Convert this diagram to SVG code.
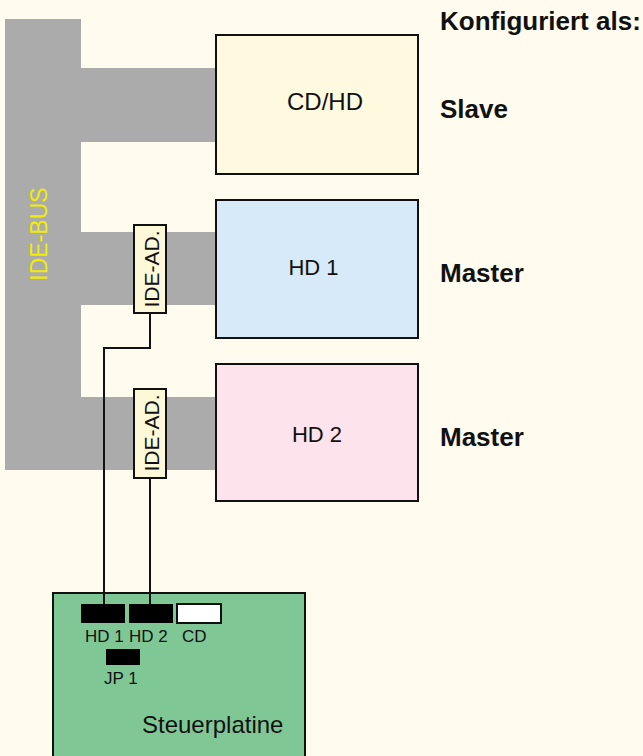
<svg xmlns="http://www.w3.org/2000/svg" width="643" height="756" viewBox="0 0 643 756">
<style>
text{font-family:"Liberation Sans",Arial,sans-serif;fill:#111}
.box{stroke:#111;stroke-width:2}
.bus{fill:#ababab}
.wire{fill:none;stroke:#111;stroke-width:2}
.cfg{font-weight:bold;font-size:26px}
.lbl{font-size:23px;text-anchor:middle}
.ad{fill:#fdf8d8;stroke:#111;stroke-width:2}
.adt{font-size:21px}
.small{font-size:17px}
</style>
<rect width="643" height="756" fill="#fffcef"/>
<g id="ide-bus">
<rect class="bus" x="5" y="19" width="76" height="451"/>
<rect class="bus" x="81" y="68" width="136" height="74"/>
<rect class="bus" x="81" y="232" width="136" height="73"/>
<rect class="bus" x="81" y="397" width="136" height="73"/>
<text x="39" y="234" transform="rotate(-90 39 234)" text-anchor="middle" dominant-baseline="central" style="fill:#f2ec00;font-size:23px">IDE-BUS</text>
</g>
<g id="cdhd">
<rect class="box" x="216" y="35" width="202" height="139" fill="#fefadf"/>
<text class="lbl" x="325" y="110" style="font-size:24px">CD/HD</text>
</g>
<g id="hd1">
<rect class="box" x="216" y="200" width="202" height="138" fill="#d6eafa"/>
<text class="lbl" x="313.5" y="275" style="font-size:22px">HD 1</text>
</g>
<g id="hd2">
<rect class="box" x="216" y="364" width="202" height="137" fill="#fce3ec"/>
<text class="lbl" x="317" y="442" style="font-size:22px">HD 2</text>
</g>
<g id="ad1">
<rect class="ad" x="134" y="225" width="32" height="88"/>
<text class="adt" x="151" y="269" transform="rotate(-90 151 269)" text-anchor="middle" dominant-baseline="central">IDE-AD.</text>
</g>
<g id="ad2">
<rect class="ad" x="134" y="389" width="32" height="89"/>
<text class="adt" x="151" y="433" transform="rotate(-90 151 433)" text-anchor="middle" dominant-baseline="central">IDE-AD.</text>
</g>
<g id="config">
<text class="cfg" x="440" y="30">Konfiguriert als:</text>
<text class="cfg" x="440" y="118">Slave</text>
<text class="cfg" x="440" y="282">Master</text>
<text class="cfg" x="440" y="446">Master</text>
</g>
<g id="board">
<rect class="box" x="53" y="593" width="252" height="175" fill="#80c796"/>
<rect x="81" y="604" width="44" height="19" fill="#000"/>
<rect x="129" y="604" width="44" height="19" fill="#000"/>
<rect x="177" y="604" width="44" height="19" fill="#fff" stroke="#111" stroke-width="2"/>
<rect x="106" y="649" width="34" height="16" fill="#000"/>
<text class="small" x="85" y="642">HD 1</text>
<text class="small" x="129" y="642">HD 2</text>
<text class="small" x="182" y="642">CD</text>
<text class="small" x="104" y="684">JP 1</text>
<text x="142" y="733" style="font-size:24px">Steuerplatine</text>
</g>
<g id="connectors">
<path class="wire" d="M150 313 V348 H104 V604"/>
<path class="wire" d="M150 478 V604"/>
</g>
</svg>
